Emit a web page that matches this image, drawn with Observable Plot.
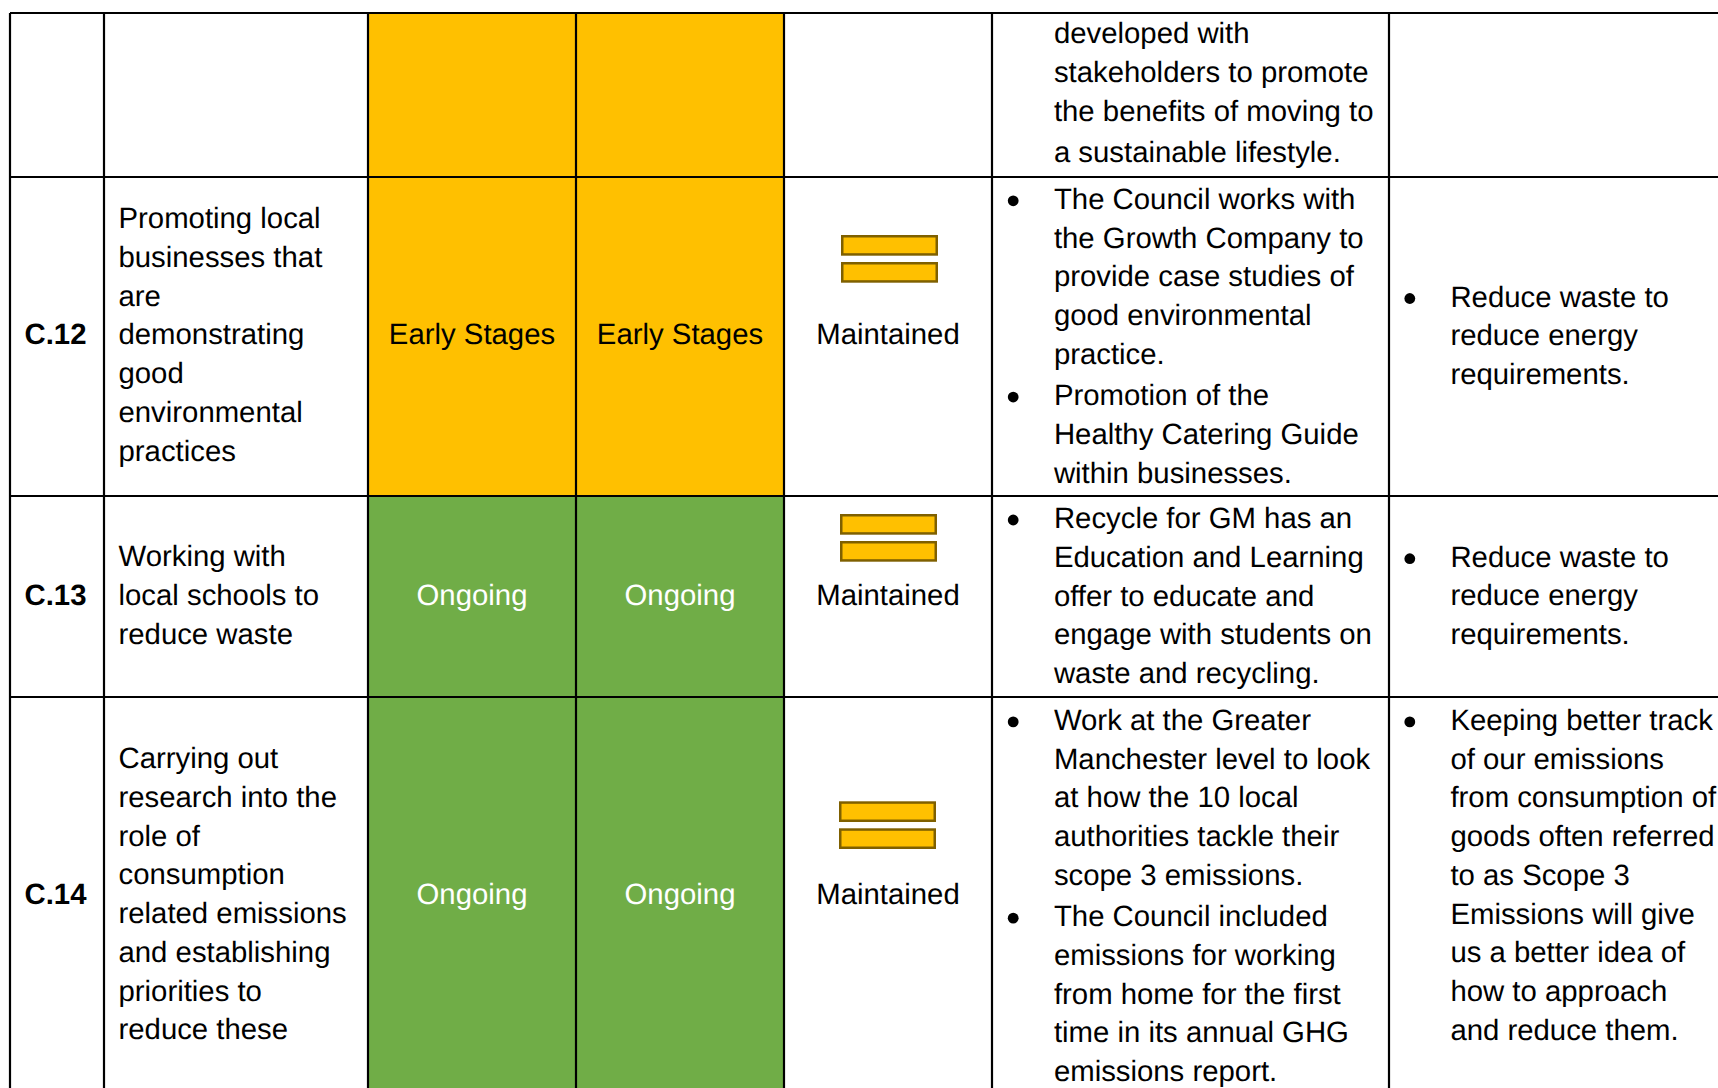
<!DOCTYPE html>
<html lang="en">
<head>
<meta charset="utf-8">
<title>Action plan table</title>
<script src="https://cdn.jsdelivr.net/npm/d3@7"></script>
<script src="https://cdn.jsdelivr.net/npm/@observablehq/plot@0.6"></script>
<style>
  html, body { margin: 0; padding: 0; background: #fff; overflow: hidden; }
  svg { display: block; }
</style>
</head>
<body>
<div id="chart"></div>
<script>
// ---- Table content -------------------------------------------------------
const rowIds = ["", "C.12", "C.13", "C.14"];
const descriptions = [
  [],
  ["Promoting local", "businesses that", "are", "demonstrating", "good", "environmental", "practices"],
  ["Working with", "local schools to", "reduce waste"],
  ["Carrying out", "research into the", "role of", "consumption", "related emissions", "and establishing", "priorities to", "reduce these"]
];
const statusA = ["", "Early Stages", "Ongoing", "Ongoing"];
const statusB = ["", "Early Stages", "Ongoing", "Ongoing"];
const directions = ["", "Maintained", "Maintained", "Maintained"];
const actions = [
  [["developed with", "stakeholders to promote", "the benefits of moving to"], ["a sustainable lifestyle."]],
  [["The Council works with", "the Growth Company to", "provide case studies of", "good environmental", "practice."],
   ["Promotion of the", "Healthy Catering Guide", "within businesses."]],
  [["Recycle for GM has an", "Education and Learning", "offer to educate and", "engage with students on", "waste and recycling."]],
  [["Work at the Greater", "Manchester level to look", "at how the 10 local", "authorities tackle their", "scope 3 emissions."],
   ["The Council included", "emissions for working", "from home for the first", "time in its annual GHG", "emissions report."]]
];
const benefits = [
  [],
  [["Reduce waste to", "reduce energy", "requirements."]],
  [["Reduce waste to", "reduce energy", "requirements."]],
  [["Keeping better track", "of our emissions", "from consumption of", "goods often referred", "to as Scope 3", "Emissions will give", "us a better idea of", "how to approach", "and reduce them."]]
];

// ---- Layout and styling (kept apart from the content) --------------------
const W = 1718, H = 1088;
const columnEdges = [10, 104, 368, 576, 784, 992, 1389];
const rowEdges = [13, 177, 496, 697, 1092];
const fontSize = 29.33, pitch = 38.75, paragraphGap = 2.5;
const labelBase = [null, 343.5, 604.7, 903.7];
const descBase = [null, 227.5, 565.8, 767.7];
const actionBase = [42.7, 208.3, 527.5, 729.4];
const benefitBase = [null, 306, 566.2, 729.4];
const iconLeft = [null, 841, 840, 839];
const iconTop = [null, 235, 514, 801.3];
const iconW = 97, iconH = 20.7, iconStep = 27, iconStroke = 2.5;
const labelX = 24, descX = 118, actionX = 1053.4, benefitX = 1449.9, centreShift = -0.5;
const bulletActionX = 1012.7, bulletBenefitX = 1409.3, bulletRise = 8;
const amber = "#FFC000", green = "#70AD47", iconEdge = "#7F6000";
const fills = [amber, amber, green, green];
const statusInk = ["#000", "#000", "#fff", "#fff"];

const columnMiddle = i => (columnEdges[i] + columnEdges[i + 1]) / 2 + centreShift;

// status cells
const statusCells = rowIds.flatMap((_, r) => [2, 3].map(c => ({
  x1: columnEdges[c], x2: columnEdges[c + 1], y1: rowEdges[r], y2: rowEdges[r + 1], fill: fills[r]
})));

// single-line labels
const centred = rowIds.flatMap((_, r) => [
  {text: statusA[r], x: columnMiddle(2), y: labelBase[r], ink: statusInk[r]},
  {text: statusB[r], x: columnMiddle(3), y: labelBase[r], ink: statusInk[r]},
  {text: directions[r], x: columnMiddle(4), y: labelBase[r], ink: "#000"}
]).filter(d => d.text);
const labels = rowIds.map((t, r) => ({text: t, x: labelX, y: labelBase[r]})).filter(d => d.text);

// multi-line left-aligned text
const leftLines = [];
const bullets = [];
function place(paragraphs, x, start, bulletX) {
  let y = start;
  paragraphs.forEach(lines => {
    if (bulletX != null) bullets.push({x: bulletX, y: y - bulletRise});
    lines.forEach(text => { leftLines.push({text, x, y}); y += pitch; });
    y += paragraphGap;
  });
}
rowIds.forEach((_, r) => {
  if (descriptions[r].length) place([descriptions[r]], descX, descBase[r], null);
  place(actions[r], actionX, actionBase[r], r > 0 ? bulletActionX : null);
  if (benefits[r].length) place(benefits[r], benefitX, benefitBase[r], bulletBenefitX);
});

// the "no change" icon: two stacked bars
const icons = rowIds.flatMap((_, r) => iconTop[r] == null ? [] : [0, 1].map(k => ({
  x1: iconLeft[r] + iconStroke / 2,
  x2: iconLeft[r] + iconW - iconStroke / 2,
  y1: iconTop[r] + k * iconStep + iconStroke / 2,
  y2: iconTop[r] + k * iconStep + iconH - iconStroke / 2
})));

const baselineShift = -0.32 * fontSize;
const family = "'Liberation Sans', Arial, sans-serif";

const chart = Plot.plot({
  width: W,
  height: H,
  margin: 0,
  x: {domain: [0, W], range: [0, W], axis: null},
  y: {domain: [0, H], range: [0, H], axis: null},
  style: {background: "#fff", fontFamily: family, textRendering: "geometricPrecision"},
  marks: [
    Plot.rect(statusCells, {x1: "x1", x2: "x2", y1: "y1", y2: "y2", fill: "fill"}),
    Plot.ruleX(columnEdges, {y1: rowEdges[0], y2: H, stroke: "#000", strokeWidth: 2.2, dx: -0.5}),
    Plot.ruleY(rowEdges.slice(0, -1), {x1: columnEdges[0], x2: W, stroke: "#000", strokeWidth: 2.2, dy: -0.5}),
    Plot.rect(icons, {x1: "x1", x2: "x2", y1: "y1", y2: "y2", fill: amber, stroke: iconEdge, strokeWidth: iconStroke}),
    Plot.dot(bullets, {x: "x", y: "y", r: 5.4, fill: "#000", stroke: "none"}),
    Plot.text(labels, {x: "x", y: "y", text: "text", textAnchor: "start", lineAnchor: "middle", dy: baselineShift,
      fontSize, fontWeight: "bold", fill: "#000"}),
    Plot.text(centred, {x: "x", y: "y", text: "text", textAnchor: "middle", lineAnchor: "middle", dy: baselineShift,
      fontSize, fill: "ink"}),
    Plot.text(leftLines, {x: "x", y: "y", text: "text", textAnchor: "start", lineAnchor: "middle", dy: baselineShift,
      fontSize, fill: "#000"})
  ]
});
document.getElementById("chart").append(chart);
</script>
</body>
</html>
